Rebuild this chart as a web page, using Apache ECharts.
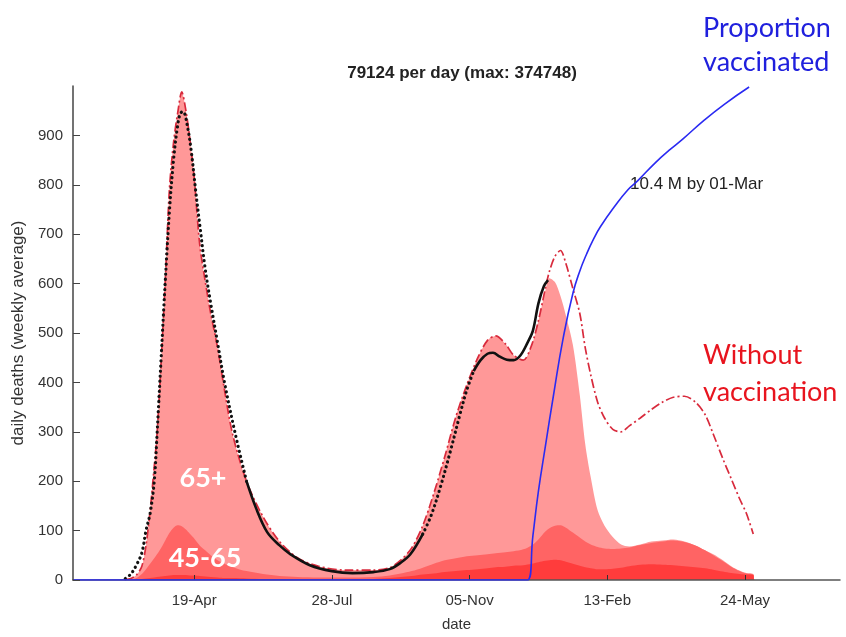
<!DOCTYPE html>
<html>
<head>
<meta charset="utf-8">
<script src="https://cdn.jsdelivr.net/npm/echarts@6/dist/echarts.min.js"></script>
<style>
    html, body { margin: 0; padding: 0; background: #fff; }
    #chart { width: 846px; height: 637px; }
</style>
</head>
<body>
<div id="chart"></div>
<script>
// x values are days counted from 19-Apr-2020
const tickDays = [0, 100, 200, 300, 400];
const tickLabels = ['19-Apr', '28-Jul', '05-Nov', '13-Feb', '24-May'];
const yTicks = [0, 100, 200, 300, 400, 500, 600, 700, 800, 900];

// model grid
const modelDays = [-88, -50, -46, -42, -38, -35, -32, -29, -27, -24, -21, -18, -15, -12, -9, -6, -3, 0, 4, 8,
    12, 17, 22, 28, 38, 50, 62, 75, 90, 110, 130, 142, 150, 158, 166, 174, 182, 190, 198, 206,
    213, 219, 226, 232, 239, 245, 250, 255, 258, 262, 266, 270, 275, 280, 284, 288, 293, 298, 304, 310,
    316, 324, 332, 340, 348, 356, 364, 371, 377, 384, 390, 396, 401, 406, 407, 469];

// all ages (65+ on top)
const totalDeaths = [0, 1, 3, 10, 28, 70, 140, 230, 294, 440, 605, 790, 885, 945, 988, 950, 890, 815, 680, 605,
    540, 470, 385, 294, 200, 128, 78, 45, 28, 20, 20, 25, 40, 65, 110, 175, 250, 330, 395, 450,
    485, 494, 478, 455, 445, 475, 525, 585, 611, 603, 575, 535, 476, 375, 275, 208, 141, 110, 87, 72,
    68, 72, 78, 80, 82, 78, 70, 60, 52, 40, 28, 19, 14, 12, 0, 0];

// under 65 (45-65 on top of under 45)
const under65Deaths = [0, 0, 1, 4, 12, 22, 33, 44, 52, 65, 80, 95, 106, 111, 109, 102, 93, 84, 70, 60,
    50, 40, 33, 26, 18, 12, 8, 6, 5, 5, 6, 9, 13, 18, 25, 33, 40, 44, 48, 50,
    52, 54, 56, 58, 62, 70, 82, 98, 105, 110, 111, 106, 96, 86, 78, 72, 67, 64, 63, 64,
    66, 71, 75, 78, 80, 77, 70, 60, 50, 38, 27, 18, 13, 11, 0, 0];

// under 45
const under45Deaths = [0, 0, 0, 1, 2, 3, 4, 5, 6, 7, 8, 9, 10, 10, 10, 10, 9, 9, 8, 7,
    6, 5, 4, 4, 3, 2, 2, 1, 1, 1, 2, 4, 6, 8, 11, 13, 16, 18, 20, 22,
    24, 26, 27, 29, 30, 33, 36, 39, 40, 41, 40, 37, 33, 29, 26, 24, 22, 22, 23, 25,
    28, 31, 32, 31, 30, 28, 26, 24, 21, 17, 14, 12, 11, 10, 0, 0];

// without vaccination (dash-dot)
const noVaccDeaths = [null, 1, 3, 10, 28, 70, 140, 230, 294, 440, 605, 790, 885, 945, 988, 950, 890, 815, 680, 605,
    540, 470, 385, 294, 200, 128, 78, 45, 28, 20, 20, 25, 40, 65, 110, 175, 250, 330, 395, 450,
    485, 494, 478, 455, 445, 475, 525, 590, 625, 655, 667, 640, 590, 540, 470, 415, 360, 328, 305, 300,
    312, 328, 345, 360, 370, 372, 360, 335, 295, 245, 205, 165, 135, 93, null, null];

// observed (black)
const obsDays = [-50, -46, -42, -38, -35, -32, -29, -27, -24, -21, -18, -15, -12, -10, -8, -5, -2, 1, 4, 8,
    12, 17, 22, 30, 38, 45, 53, 62, 70, 84, 100, 115, 130, 142, 150, 157, 166, 172, 179, 186,
    193, 198, 203, 208, 213, 217, 222, 227, 232, 237, 242, 246, 250, 254, 257];
const obsDeaths = [3, 12, 30, 55, 100, 135, 200, 294, 450, 605, 745, 850, 920, 945, 948, 920, 865, 790, 720, 630,
    560, 480, 400, 294, 200, 145, 97, 70, 52, 30, 18, 14, 16, 22, 35, 52, 93, 130, 190, 260,
    335, 385, 423, 445, 458, 460, 452, 446, 445, 455, 480, 505, 560, 595, 607];
const dotRanges = [[-50, 38], [166, 203]];

// proportion vaccinated (0..1)
const vaccDays = [-88, 242, 246, 250, 255, 261, 268, 275, 280, 285, 290, 295, 305, 315, 322, 335, 345, 355, 370, 385, 403];
const vaccProp = [0, 0, 0.09, 0.18, 0.27, 0.375, 0.49, 0.58, 0.625, 0.66, 0.69, 0.715, 0.755, 0.79, 0.808, 0.845, 0.87, 0.893, 0.93, 0.963, 0.998];

const pairs = (xs, ys) => xs.map((d, i) => [d, ys[i]]);
const inDots = d => dotRanges.some(r => d >= r[0] && d <= r[1]);
const inDotsStrict = d => dotRanges.some(r => d > r[0] && d < r[1]);

let myChart = echarts.init(document.getElementById('chart'));

const font = 'Liberation Sans, Arial, sans-serif';

const areaSeries = (name, ys, color) => ({
    name: name,
    type: 'line',
    data: pairs(modelDays, ys),
    smooth: 0.3,
    showSymbol: false,
    lineStyle: { width: 0 },
    areaStyle: { color: color, opacity: 1 },
    silent: true
});

const option = {
    animation: false,
    grid: { left: 73, right: 6, top: 86, bottom: 52 },
    xAxis: {
        type: 'value',
        min: -88,
        max: 469,
        name: 'date',
        nameLocation: 'middle',
        nameGap: 37,
        nameTextStyle: { fontFamily: font, fontSize: 15, color: '#333' },
        axisLine: { show: true, lineStyle: { color: '#555', width: 1.5 } },
        axisTick: { show: true, inside: true, length: 5, customValues: tickDays, lineStyle: { color: '#333' } },
        axisLabel: {
            customValues: tickDays,
            formatter: v => tickLabels[tickDays.indexOf(v)] || '',
            fontFamily: font, fontSize: 15, color: '#333', margin: 13
        },
        splitLine: { show: false },
        z: 5
    },
    yAxis: [{
        type: 'value',
        min: 0,
        max: 1000,
        name: 'daily deaths (weekly average)',
        nameLocation: 'middle',
        nameGap: 44,
        nameRotate: 90,
        nameTextStyle: { fontFamily: font, fontSize: 17, color: '#333' },
        axisLine: { show: true, onZero: false, lineStyle: { color: '#444', width: 1.5 } },
        axisTick: { show: true, inside: true, length: 7, customValues: yTicks, lineStyle: { color: '#444' } },
        axisLabel: { customValues: yTicks, fontFamily: font, fontSize: 15, color: '#333', margin: 10 },
        splitLine: { show: false },
        z: 10
    }, {
        type: 'value',
        min: 0,
        max: 1,
        show: false
    }],
    series: [
        areaSeries('65+', totalDeaths, '#ff9898'),
        areaSeries('45-65', under65Deaths, '#ff6464'),
        areaSeries('<45', under45Deaths, '#ff3c3c'),
        {
            name: 'Without vaccination',
            type: 'line',
            data: pairs(modelDays, noVaccDeaths),
            smooth: 0.3,
            showSymbol: false,
            lineStyle: { color: '#d82a3c', width: 1.7, type: [9, 3, 2, 3] }
        },
        {
            name: 'observed',
            type: 'line',
            data: obsDays.map((d, i) => [d, inDotsStrict(d) ? null : obsDeaths[i]]),
            smooth: 0.35,
            showSymbol: false,
            lineStyle: { color: '#111', width: 2.6 }
        },
        {
            name: 'observed dots',
            type: 'line',
            data: obsDays.map((d, i) => [d, inDots(d) ? obsDeaths[i] : null]),
            smooth: 0.35,
            showSymbol: false,
            lineStyle: { color: '#111', width: 3.2, type: [0.1, 5], cap: 'round' }
        },
        {
            name: 'Proportion vaccinated',
            type: 'line',
            yAxisIndex: 1,
            data: pairs(vaccDays, vaccProp),
            smooth: 0.5,
            showSymbol: false,
            lineStyle: { color: '#2a2af2', width: 1.6 },
            z: 8
        }
    ],
    graphic: [
        { type: 'text', x: 462, y: 73, style: { text: '79124 per day (max: 374748)', font: 'bold 17px ' + font, fill: '#222', align: 'center', verticalAlign: 'middle' } },
        { type: 'text', x: 630, y: 184, style: { text: '10.4 M by 01-Mar', font: '17px ' + font, fill: '#222', align: 'left', verticalAlign: 'middle' } },
        { type: 'text', x: 703, y: 28, style: { text: 'Proportion', font: '27px Lato, sans-serif', fill: '#2020dd', align: 'left', verticalAlign: 'middle' } },
        { type: 'text', x: 703, y: 62, style: { text: 'vaccinated', font: '27px Lato, sans-serif', fill: '#2020dd', align: 'left', verticalAlign: 'middle' } },
        { type: 'text', x: 703, y: 355, style: { text: 'Without', font: '27px Lato, sans-serif', fill: '#e8141e', align: 'left', verticalAlign: 'middle' } },
        { type: 'text', x: 703, y: 392, style: { text: 'vaccination', font: '27px Lato, sans-serif', fill: '#e8141e', align: 'left', verticalAlign: 'middle' } },
        { type: 'text', x: 203, y: 478, z: 100, style: { text: '65+', font: 'bold 27px Lato, sans-serif', fill: '#fff', align: 'center', verticalAlign: 'middle' } },
        { type: 'text', x: 205, y: 558, z: 100, style: { text: '45-65', font: 'bold 27px Lato, sans-serif', fill: '#fff', align: 'center', verticalAlign: 'middle' } }
    ]
};
myChart.setOption(option);
</script>
</body>
</html>
